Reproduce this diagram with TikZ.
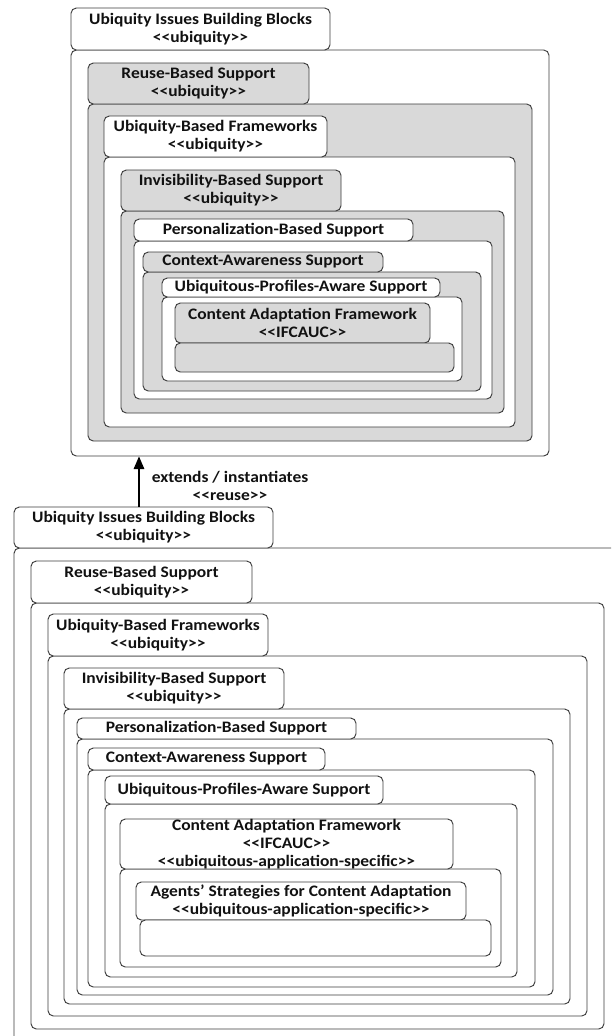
\documentclass[tikz,border=0pt]{standalone}
\usepackage{fontspec}
\setmainfont{Carlito}[FakeStretch=1.09]
\usetikzlibrary{fit,arrows.meta}
\definecolor{pkgline}{HTML}{3C3C3C}
\definecolor{pkgfill}{HTML}{D9D9D9}
\definecolor{ink}{HTML}{111111}
% stereotype in guillemet-like brackets, kept as plain < and >
\newcommand\stereo[1]{<\kern0pt<#1>\kern0pt>}
\begin{document}
\begin{tikzpicture}[x=0.75pt,y=-0.75pt,
  pkg/.style={draw=pkgline, line width=0.7pt, rounded corners=4pt, inner sep=0pt, fill=white},
  pkggray/.style={pkg, fill=pkgfill},
  lbl/.style={align=center, inner sep=0pt, text=ink,
    font=\bfseries\fontsize{12}{13.3}\selectfont},
  relarrow/.style={draw=black, line width=0.8pt, -{Triangle[length=9.5pt,width=8pt]}}]
\useasboundingbox (0,0) rectangle (611,1036);
\clip (0,0) rectangle (611,1036);

% ---------- upper nesting of packages ----------
\node[pkg,     fit={(71,50) (549,456)}]  (b1A) {};
\node[pkg,     fit={(71,8) (330,50)}]    (t1A) {};
\node[lbl] (l1A) at (t1A) {Ubiquity Issues Building Blocks\\\stereo{ubiquity}};

\node[pkggray, fit={(88,104) (532,441)}] (b1B) {};
\node[pkggray, fit={(88,63) (309,104)}]  (t1B) {};
\node[lbl] (l1B) at (t1B) {Reuse-Based Support\\\stereo{ubiquity}};

\node[pkg,     fit={(104,157) (515,427)}] (b1C) {};
\node[pkg,     fit={(104,116) (327,157)}] (t1C) {};
\node[lbl] (l1C) at (t1C) {Ubiquity-Based Frameworks\\\stereo{ubiquity}};

\node[pkggray, fit={(121,211) (504,413)}] (b1D) {};
\node[pkggray, fit={(121,170) (341,211)}] (t1D) {};
\node[lbl] (l1D) at (t1D) {Invisibility-Based Support\\\stereo{ubiquity}};

\node[pkg,     fit={(134,241) (492,399)}] (b1E) {};
\node[pkg,     fit={(134,219) (413,241)}] (t1E) {};
\node[lbl] (l1E) at (t1E) {Personalization-Based Support};

\node[pkggray, fit={(143,272) (481,391)}] (b1F) {};
\node[pkggray, fit={(143,252) (383,272)}] (t1F) {};
\node[lbl] (l1F) at (t1F) {Context-Awareness Support};

\node[pkg,     fit={(162,297) (462,381)}] (b1G) {};
\node[pkg,     fit={(162,278) (440,297)}] (t1G) {};
\node[lbl] (l1G) at (t1G) {Ubiquitous-Profiles-Aware Support};

\node[pkggray, fit={(175,303) (430,343)}] (t1H) {};
\node[lbl] (l1H) at (t1H) {Content Adaptation Framework\\\stereo{IFCAUC}};
\node[pkggray, fit={(175,343) (454,372)}] (e1) {};

% ---------- lower nesting of packages ----------
\node[pkg, fit={(14,548) (640,1060)}] (b2A) {};
\node[pkg, fit={(14,507) (273,548)}]  (t2A) {};
\node[lbl] (l2A) at (t2A) {Ubiquity Issues Building Blocks\\\stereo{ubiquity}};

\node[pkg, fit={(31,603) (604,1029)}] (b2B) {};
\node[pkg, fit={(31,561) (252,603)}]  (t2B) {};
\node[lbl] (l2B) at (t2B) {Reuse-Based Support\\\stereo{ubiquity}};

\node[pkg, fit={(48,656) (587,1016)}] (b2C) {};
\node[pkg, fit={(48,614) (268,656)}]  (t2C) {};
\node[lbl] (l2C) at (t2C) {Ubiquity-Based Frameworks\\\stereo{ubiquity}};

\node[pkg, fit={(64,709) (570,1004)}] (b2D) {};
\node[pkg, fit={(64,668) (284,709)}]  (t2D) {};
\node[lbl] (l2D) at (t2D) {Invisibility-Based Support\\\stereo{ubiquity}};

\node[pkg, fit={(77,739) (553,995)}]  (b2E) {};
\node[pkg, fit={(77,718) (356,739)}]  (t2E) {};
\node[lbl] (l2E) at (t2E) {Personalization-Based Support};

\node[pkg, fit={(88,770) (535,987)}]  (b2F) {};
\node[pkg, fit={(88,748) (325,770)}]  (t2F) {};
\node[lbl] (l2F) at (t2F) {Context-Awareness Support};

\node[pkg, fit={(105,804) (517,977)}] (b2G) {};
\node[pkg, fit={(105,776) (383,804)}] (t2G) {};
\node[lbl] (l2G) at (t2G) {Ubiquitous-Profiles-Aware Support};

\node[pkg, fit={(120,869) (501,967)}] (b2H) {};
\node[pkg, fit={(120,819) (453,869)}] (t2H) {};
\node[lbl] (l2H) at (t2H) {Content Adaptation Framework\\\stereo{IFCAUC}\\\stereo{ubiquitous-application-specific}};

\node[pkg, fit={(136,882) (466,920)}] (t2I) {};
\node[lbl] (l2I) at (t2I) {Agents’ Strategies for Content Adaptation\\\stereo{ubiquitous-application-specific}};
\node[pkg, fit={(140,920) (491,956)}] (e2) {};

% ---------- reuse relation between the two nestings ----------
\coordinate (ax) at (139,0);
\draw[relarrow] (ax |- t2A.north) -- (ax |- b1A.south);
\node[lbl] (rel) at (230,486) {extends / instantiates\\\stereo{reuse}};
\end{tikzpicture}
\end{document}
